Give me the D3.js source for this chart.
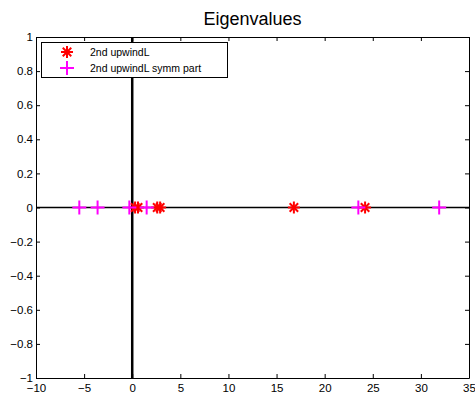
<!DOCTYPE html>
<html>
<head>
<meta charset="utf-8">
<script src="https://cdn.jsdelivr.net/npm/d3@7"></script>
<style>
  body { margin: 0; background: #fff; }
  svg { font-family: "Liberation Sans", Arial, sans-serif; }
</style>
</head>
<body>
<div id="chart"></div>
<script>
const chartTitle = "Eigenvalues";
const seriesNames = ["2nd upwindL", "2nd upwindL symm part"];
// real parts of eigenvalues (imag all 0)
const upwindVals = [0.3, 0.6, 2.6, 2.9, 16.8, 24.2];
const symmVals = [-5.5, -3.6, -0.3, 1.5, 23.5, 31.9];
const xTicks = [-10, -5, 0, 5, 10, 15, 20, 25, 30, 35];
const yTicks = [-1, -0.8, -0.6, -0.4, -0.2, 0, 0.2, 0.4, 0.6, 0.8, 1];

const width = 475, height = 399;
const margin = { top: 37, right: 6, bottom: 21, left: 36 };

const svg = d3.select("#chart").append("svg")
  .attr("width", width)
  .attr("height", height);

const x = d3.scaleLinear().domain([-10, 35]).range([margin.left, width - margin.right]);
const y = d3.scaleLinear().domain([-1, 1]).range([height - margin.bottom, margin.top]);

// zero lines
svg.append("line")
  .attr("x1", x(-10)).attr("x2", x(35))
  .attr("y1", y(0)).attr("y2", y(0))
  .attr("stroke", "#000").attr("stroke-width", 1.5);
svg.append("line")
  .attr("x1", x(0)).attr("x2", x(0))
  .attr("y1", y(-1)).attr("y2", y(1))
  .attr("stroke", "#000").attr("stroke-width", 2.5);

// axes, ticks inward
const tickLen = 4;
const fmt = d => d < 0 ? "\u2212" + Math.abs(d) : d;
svg.append("g")
  .attr("transform", `translate(0,${y(-1)})`)
  .call(d3.axisBottom(x).tickValues(xTicks).tickSizeInner(-tickLen).tickSizeOuter(0).tickPadding(6).tickFormat(fmt));
svg.append("g")
  .attr("transform", `translate(0,${y(1)})`)
  .call(d3.axisTop(x).tickValues(xTicks).tickSizeInner(-tickLen).tickSizeOuter(0).tickFormat(""));
svg.append("g")
  .attr("transform", `translate(${x(-10)},0)`)
  .call(d3.axisLeft(y).tickValues(yTicks).tickSizeInner(-tickLen).tickSizeOuter(0).tickPadding(3).tickFormat(fmt));
svg.append("g")
  .attr("transform", `translate(${x(35)},0)`)
  .call(d3.axisRight(y).tickValues(yTicks).tickSizeInner(-tickLen).tickSizeOuter(0).tickFormat(""));

svg.selectAll(".domain").attr("stroke", "#000");
svg.selectAll(".tick line").attr("stroke", "#000");
svg.selectAll(".tick text").attr("font-size", 11.5).attr("fill", "#000").attr("font-family", "Liberation Sans, Arial, sans-serif");

function star(g, cx, cy, r) {
  for (let i = 0; i < 4; i++) {
    const a = i * Math.PI / 4;
    g.append("line")
      .attr("x1", cx - r * Math.cos(a)).attr("y1", cy - r * Math.sin(a))
      .attr("x2", cx + r * Math.cos(a)).attr("y2", cy + r * Math.sin(a))
      .attr("stroke", "#ff0000").attr("stroke-width", 2);
  }
}
function plus(g, cx, cy, r) {
  g.append("line").attr("x1", cx - r).attr("x2", cx + r).attr("y1", cy).attr("y2", cy)
    .attr("stroke", "#ff00ff").attr("stroke-width", 2);
  g.append("line").attr("x1", cx).attr("x2", cx).attr("y1", cy - r).attr("y2", cy + r)
    .attr("stroke", "#ff00ff").attr("stroke-width", 2);
}

const marks = svg.append("g");
upwindVals.forEach(v => star(marks, x(v), y(0), 6));
symmVals.forEach(v => plus(marks, x(v), y(0), 7));

// title
svg.append("text")
  .attr("x", (x(-10) + x(35)) / 2)
  .attr("y", 25)
  .attr("text-anchor", "middle")
  .attr("font-size", 18)
  .text(chartTitle);

// legend
const legend = svg.append("g");
legend.append("rect")
  .attr("x", 41.5).attr("y", 42.5).attr("width", 186).attr("height", 35)
  .attr("fill", "#fff").attr("stroke", "#000");
star(legend, 67, 52, 6);
plus(legend, 67, 68, 7);
seriesNames.forEach((n, i) => {
  legend.append("text")
    .attr("x", 90).attr("y", 56 + i * 16)
    .attr("font-size", 10.5)
    .text(n);
});
</script>
</body>
</html>
